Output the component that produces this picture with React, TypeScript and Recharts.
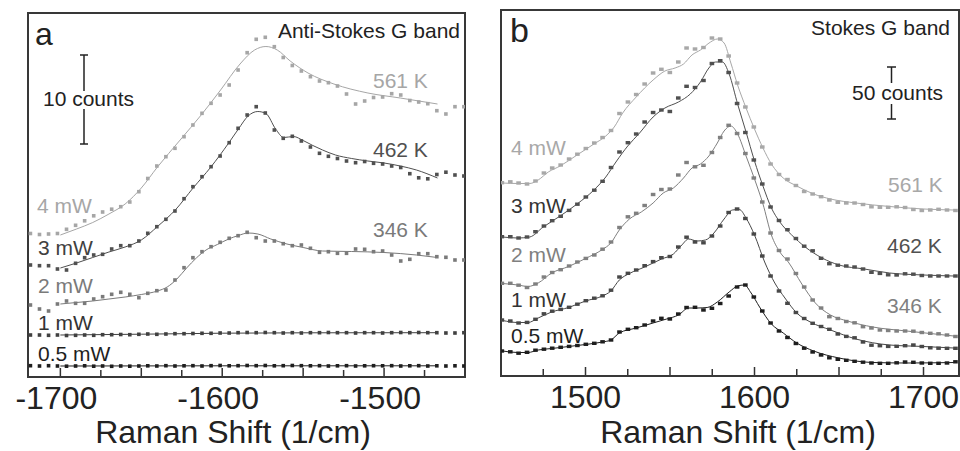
import React from 'react';
import { ComposedChart, Scatter, Line, XAxis, YAxis, ReferenceArea } from 'recharts';

const FONT = '"Liberation Sans", Arial, Helvetica, sans-serif';

// ---------------- Panel a : Anti-Stokes G band (intensity, a.u., offset traces) ----------------
const shiftA = [-1718.5, -1712.9, -1707.3, -1701.8, -1696.2, -1690.6, -1685.0, -1679.4, -1673.9, -1668.3,
  -1662.7, -1657.1, -1651.5, -1646.0, -1640.4, -1634.8, -1629.2, -1623.6, -1618.1, -1612.5,
  -1606.9, -1601.3, -1595.7, -1590.2, -1584.6, -1579.0, -1573.4, -1567.8, -1562.3, -1556.7,
  -1551.1, -1545.5, -1539.9, -1534.4, -1528.8, -1523.2, -1517.6, -1512.0, -1506.5, -1500.9,
  -1495.3, -1489.7, -1484.1, -1478.6, -1473.0, -1467.4, -1461.8, -1456.2, -1450.7];

const aS05 = [11.3, 11, 11.3, 11, 10.8, 11, 11.2, 10.8, 11, 10.7, 11, 10.8, 11, 11.2, 11, 11.3, 11, 11.2, 11.3, 11,
  11.3, 11.5, 11.2, 11.3, 11.5, 11.3, 11.5, 11.2, 11.3, 11.5, 11.3, 11.2, 11.3, 11, 11.2, 11.3, 11, 11.2, 11.3, 11.2,
  11.3, 11, 11.2, 11.3, 11, 11.2, 11, 11.2, 11];
const aS1 = [42, 42, 41.7, 42, 41.5, 41.7, 42, 41.7, 42.3, 42.3, 42.5, 42.3, 42.7, 43, 42.7, 43, 43.3, 43.3, 43.5, 43.7,
  43.7, 44, 44, 44.3, 44.5, 44.3, 44.5, 44.3, 44, 44.3, 44, 44.3, 44.3, 44.5, 44.3, 44.3, 44, 44.3, 44.3, 44,
  44.3, 44.5, 44.3, 44.5, 44.3, 44.3, 44, 44, 44.3];
const aS2 = [72, 68, 66, 73, 76, 73.7, 73.7, 78, 80.3, 82.7, 84.7, 82.7, 79.3, 83.7, 86.3, 87, 97, 109.3, 119.3, 125.3,
  130.3, 134.7, 138.7, 141.3, 144.7, 139.3, 136, 136, 133.3, 131.3, 132, 128.7, 124.7, 125.3, 123.7, 123.7, 128, 127.7, 125.3, 126,
  122, 116, 117.7, 123.3, 123.3, 120.3, 119.7, 117, 117];
const aS3 = [112, 111.3, 111.3, 108, 107, 113.7, 119.3, 122, 122.7, 128, 131.3, 131.3, 136, 143.7, 150.3, 157.7, 166, 178.3, 190.3, 200.3,
  210.3, 221, 234.3, 248.7, 262, 270.3, 264, 247, 238.7, 240.7, 236, 230, 223.7, 220.7, 218.5, 216, 214.3, 215.5, 213.7, 213,
  211, 209.5, 203.3, 199.2, 198.2, 202.5, 204.8, 202, 201];
const aS4 = [143.5, 142.5, 143, 143.5, 147.7, 151.7, 156.2, 161.2, 165, 167.8, 170.3, 175, 185.3, 198.5, 211, 220.3, 228.7, 240.3, 252, 263.7,
  273.7, 282, 292, 307, 324.3, 337.7, 339.7, 330.3, 319.5, 311.5, 306, 300.3, 296, 294.3, 291, 283, 273, 276, 279.5, 280,
  283.3, 282, 276.5, 275, 273.3, 266.3, 263, 270.3, 270.3];

const aFit05: [number, number][] = [[-1700, 11], [-1600, 11.2], [-1467, 11.2]];
const aFit1: [number, number][] = [[-1700, 42], [-1650, 42.8], [-1600, 43.8], [-1550, 44.2], [-1467, 44.3]];
const aFit2: [number, number][] = [[-1700, 73], [-1690, 74.5], [-1680, 76], [-1670, 78], [-1660, 80], [-1650, 82.5], [-1640, 86],
  [-1634, 90], [-1628, 98], [-1622, 109], [-1616, 119], [-1610, 127], [-1603, 132.5], [-1596, 138], [-1590, 141.5], [-1584, 144],
  [-1578, 143], [-1570, 138], [-1560, 133], [-1550, 129.5], [-1538, 126], [-1520, 125.5], [-1500, 124.5], [-1480, 122], [-1467, 119.5]];
const aFit3: [number, number][] = [[-1700, 109], [-1690, 114], [-1680, 119.5], [-1670, 125], [-1660, 130], [-1650, 137], [-1640, 150.5],
  [-1629, 167], [-1618, 189], [-1607, 210], [-1596, 234], [-1590, 248], [-1584, 261], [-1578, 265.5], [-1573, 263.5], [-1567, 248],
  [-1562, 239.5], [-1556, 240.5], [-1550, 236.5], [-1544, 231.5], [-1538, 227], [-1530, 222], [-1520, 218.5], [-1510, 216],
  [-1500, 214], [-1490, 211], [-1480, 207], [-1467, 199]];
const aFit4: [number, number][] = [[-1700, 142], [-1690, 148], [-1680, 154.5], [-1670, 163], [-1660, 173], [-1650, 189], [-1640, 210],
  [-1626, 237], [-1613, 262], [-1601, 287], [-1589, 313], [-1580, 327], [-1573, 330.5], [-1566, 327], [-1558, 316], [-1547, 304],
  [-1531, 293], [-1510, 284], [-1490, 279], [-1467, 273]];

// ---------------- Panel b : Stokes G band ----------------
const shiftB = [1450.5, 1455.5, 1460.4, 1465.4, 1470.4, 1475.4, 1480.3, 1485.3, 1490.3, 1495.2,
  1500.2, 1505.2, 1510.1, 1515.1, 1520.1, 1525.1, 1530.0, 1535.0, 1540.0, 1544.9,
  1549.9, 1554.9, 1559.8, 1564.8, 1569.8, 1574.8, 1579.7, 1584.7, 1589.7, 1594.6,
  1599.6, 1604.6, 1609.5, 1614.5, 1619.5, 1624.5, 1629.4, 1634.4, 1639.4, 1644.3,
  1649.3, 1654.3, 1659.2, 1664.2, 1669.2, 1674.2, 1679.1, 1684.1, 1689.1, 1694.0,
  1699.0, 1704.0, 1708.9, 1713.9, 1718.9];

const bS05 = [25, 24.2, 22.8, 23.7, 25.8, 26.8, 27.8, 28.7, 29.6, 30.5, 31.7, 32.7, 34.2, 36, 44, 46.7, 48.3, 51, 55, 57.7,
  57, 62, 68.5, 68.7, 66, 67.7, 72.5, 80, 89, 91, 79, 65, 53, 45, 38.5, 32.5, 27.8, 24, 21, 18.2,
  16.7, 15.7, 14.7, 13.8, 13, 12.7, 12.7, 13.2, 14, 13.7, 13, 12.7, 12.7, 13, 14.2];
const bS1 = [56, 55, 53, 53.6, 56.7, 62.2, 64.8, 66.6, 68.7, 71.8, 75.3, 77.8, 80.2, 85.8, 99, 102.7, 106, 110.3, 114.4, 118.3,
  119.5, 129, 138.8, 134, 133.2, 140, 150, 163.5, 167, 157.5, 142, 120, 100, 85, 72.7, 63.5, 57.5, 52.7, 49.5, 46.7,
  42, 39.6, 38.2, 34, 30.8, 30.3, 29.6, 29.7, 30.3, 31, 29.5, 28.2, 27.8, 27.7, 27.7];
const bS2 = [92.7, 92.7, 90.8, 88.5, 92, 99, 103.5, 106.3, 110, 114, 117.6, 121, 126.8, 134, 148.5, 159.2, 162.7, 170.5, 181.5, 186.5,
  187, 201, 213.5, 209.2, 210.7, 223.5, 238.5, 250.7, 242.5, 222.5, 198, 174, 143, 125.5, 117, 102.5, 89, 76, 68, 59.3,
  57.5, 54.5, 53.2, 49.3, 48, 46, 45.5, 45, 45, 44.8, 43.5, 42.7, 42.2, 41, 39.5];
const bS3 = [139.3, 139.3, 138, 139, 144.3, 150, 155.3, 159.7, 165.6, 171.8, 179, 185.8, 194.7, 208.5, 224, 233.3, 242, 254, 263.5, 266,
  264.5, 278, 289.7, 288.5, 295.5, 312.5, 315.3, 303.5, 272.5, 243.5, 216, 192, 169, 155.5, 146.3, 137.5, 129.8, 125.2, 117.7, 112.3,
  110.8, 110, 109, 107, 103.7, 102.6, 101.2, 101, 102.2, 101.8, 100.5, 100, 100, 100, 100];
const bS4 = [193.3, 194.2, 193, 192, 195, 203, 208, 211, 217, 221.8, 227.5, 233, 238.5, 245.5, 262.5, 274, 281.5, 292, 303, 306.7,
  303.5, 314, 328, 327, 328.5, 338, 337, 320, 293, 269, 249, 229, 212, 201.5, 196.5, 190.5, 184.5, 182, 179.3, 176,
  173.7, 173, 173, 171.5, 169.2, 168.7, 168.7, 169.2, 168.5, 166.5, 165.5, 166, 166.7, 166, 165.5];

const bFit05: [number, number][] = [[1451, 25], [1460, 23.5], [1466, 23.5], [1472, 26], [1480, 27.5], [1490, 29.5], [1500, 31.5],
  [1510, 34], [1515, 36], [1520, 43], [1530, 48], [1540, 53], [1548, 57], [1555, 61], [1561, 68], [1566, 68], [1572, 68.5],
  [1578, 74], [1585, 84], [1590, 90], [1594, 91], [1598, 83], [1603, 69], [1610, 52], [1617, 43], [1625, 33], [1635, 25],
  [1650, 18], [1670, 13.5], [1690, 13], [1718, 13.5]];
const bFit1: [number, number][] = [[1451, 55.5], [1460, 53.5], [1466, 53.5], [1472, 58], [1480, 64], [1490, 68.5], [1500, 75],
  [1510, 80], [1515, 85], [1520, 96], [1526, 102.5], [1535, 109], [1545, 117], [1552, 122], [1557, 131], [1561, 137], [1566, 135],
  [1571, 136], [1576, 143], [1582, 157], [1587, 166], [1591, 166.5], [1595, 158], [1600, 141], [1606, 114], [1612, 93], [1618, 78],
  [1625, 63], [1633, 54], [1645, 46], [1660, 37], [1680, 31], [1700, 29.5], [1718, 28]];
const bFit2: [number, number][] = [[1451, 92.5], [1460, 91], [1466, 89.5], [1472, 93], [1480, 103], [1490, 109.5], [1500, 117.5],
  [1510, 126.5], [1515, 133], [1520, 146], [1526, 157], [1533, 164], [1540, 173], [1546, 183], [1552, 188], [1558, 198], [1563, 208],
  [1568, 212], [1573, 220], [1578, 233], [1582, 245], [1586, 250], [1590, 242], [1595, 220], [1600, 197], [1605, 172], [1610, 141],
  [1615, 124], [1620, 114], [1628, 92], [1636, 73], [1645, 61], [1655, 55], [1670, 49], [1690, 45], [1718, 40]];
const bFit3: [number, number][] = [[1451, 139], [1460, 138], [1467, 139], [1475, 149], [1485, 160], [1495, 172], [1505, 186],
  [1512, 199], [1518, 214], [1525, 230], [1532, 243], [1540, 259], [1547, 268], [1555, 274], [1562, 282], [1568, 294], [1573, 308],
  [1577, 314], [1581, 314], [1585, 302], [1590, 272], [1595, 244], [1600, 215], [1605, 190], [1610, 168], [1615, 154], [1622, 141],
  [1630, 129], [1640, 118], [1650, 111], [1665, 107], [1680, 103], [1700, 101], [1718, 100]];
const bFit4: [number, number][] = [[1451, 193], [1460, 192.5], [1467, 192.5], [1472, 196], [1478, 204], [1485, 210], [1495, 221],
  [1505, 232], [1512, 240], [1517, 249], [1522, 263], [1530, 279], [1540, 296], [1547, 305], [1553, 308], [1558, 312], [1563, 321],
  [1568, 326], [1574, 334], [1578, 337], [1582, 333], [1586, 313], [1590, 291], [1595, 268], [1600, 247], [1605, 228], [1610, 212],
  [1617, 198], [1625, 190], [1635, 182], [1645, 177], [1660, 173], [1680, 169.5], [1700, 167], [1718, 166]];

const ticksA = [-1700, -1675, -1650, -1625, -1600, -1575, -1550, -1525, -1500, -1475];
const ticksB = [1475, 1500, 1525, 1550, 1575, 1600, 1625, 1650, 1675, 1700];

type Series = { key: string; ys: number[]; fit: [number, number][]; color: string };

const seriesA: Series[] = [
  { key: 'a05', ys: aS05, fit: aFit05, color: '#1e1e1e' },
  { key: 'a1', ys: aS1, fit: aFit1, color: '#404040' },
  { key: 'a2', ys: aS2, fit: aFit2, color: '#7a7a7a' },
  { key: 'a3', ys: aS3, fit: aFit3, color: '#505050' },
  { key: 'a4', ys: aS4, fit: aFit4, color: '#a6a6a6' },
];
const seriesB: Series[] = [
  { key: 'b05', ys: bS05, fit: bFit05, color: '#1e1e1e' },
  { key: 'b1', ys: bS1, fit: bFit1, color: '#484848' },
  { key: 'b2', ys: bS2, fit: bFit2, color: '#808080' },
  { key: 'b3', ys: bS3, fit: bFit3, color: '#505050' },
  { key: 'b4', ys: bS4, fit: bFit4, color: '#a8a8a8' },
];

const toPts = (xs: number[], ys: number[]) => {
  const n = Math.min(xs.length, ys.length);
  const out: { x: number; y: number }[] = [];
  for (let i = 0; i < n; i++) out.push({ x: xs[i], y: ys[i] });
  return out;
};
const fitPts = (f: [number, number][]) => f.map(([x, y]) => ({ x, y }));

const square = (w: number, h: number, fill: string) => (props: any) => {
  const { cx, cy } = props;
  if (cx == null || cy == null || isNaN(cx) || isNaN(cy)) return <g />;
  return <rect x={cx - w / 2} y={cy - h / 2} width={w} height={h} fill={fill} />;
};

const renderTick = (props: any) => {
  const { x, y, payload } = props;
  const v = Number(payload.value);
  const isLabel = v % 100 === 0;
  const len = v % 50 === 0 ? 8 : 6;
  return (
    <g>
      <line x1={x} x2={x} y1={y - 1} y2={y - 1 - len} stroke="#333" strokeWidth={1.5} />
      {isLabel && (
        <text x={x + (v < 0 ? -4 : 0)} y={y + 32} textAnchor="middle" fontSize={32} fill="#222" fontFamily={FONT}>
          {String(v)}
        </text>
      )}
    </g>
  );
};

type PanelProps = {
  xs: number[];
  series: Series[];
  domainX: [number, number];
  domainY: [number, number];
  ticks: number[];
  margin: { top: number; right: number; left: number; bottom: number };
  axisHeight: number;
  markW: number;
  markH: number;
};

function Panel({ xs, series, domainX, domainY, ticks, margin, axisHeight, markW, markH }: PanelProps) {
  return (
    <ComposedChart width={480} height={451} margin={margin}>
      <XAxis
        type="number"
        dataKey="x"
        domain={domainX}
        allowDataOverflow
        ticks={ticks}
        interval={0}
        tick={renderTick}
        tickLine={false}
        axisLine={false}
        tickSize={0}
        tickMargin={0}
        height={axisHeight}
      />
      <YAxis type="number" dataKey="y" domain={domainY} hide allowDataOverflow />
      <ReferenceArea
        x1={domainX[0]}
        x2={domainX[1]}
        y1={domainY[0]}
        y2={domainY[1]}
        fill="none"
        fillOpacity={0}
        stroke="#383838"
        strokeWidth={2}
        strokeOpacity={1}
        ifOverflow="visible"
      />
      {series.map((s) => (
        <Line
          key={s.key + '-fit'}
          data={fitPts(s.fit)}
          dataKey="y"
          type="monotone"
          stroke={s.color}
          strokeWidth={1}
          dot={false}
          activeDot={false}
          isAnimationActive={false}
        />
      ))}
      {series.map((s) => (
        <Scatter
          key={s.key}
          data={toPts(xs, s.ys)}
          dataKey="y"
          fill={s.color}
          shape={square(markW, markH, s.color)}
          isAnimationActive={false}
        />
      ))}
    </ComposedChart>
  );
}

const T = (p: { x: number; y: number; c?: string; s?: number; a?: 'start' | 'middle' | 'end'; children: string }) => (
  <text x={p.x} y={p.y} fill={p.c || '#222'} fontSize={p.s || 21} textAnchor={p.a || 'start'} fontFamily={FONT}>
    {p.children}
  </text>
);

export default function App() {
  return (
    <div style={{ position: 'absolute', left: 0, top: 0, width: 960, height: 451, background: '#fff' }}>
      <div style={{ position: 'absolute', left: 0, top: 0 }}>
        <Panel
          xs={shiftA}
          series={seriesA}
          domainX={[-1720, -1450]}
          domainY={[0, 364]}
          ticks={ticksA}
          margin={{ top: 13, right: 15, left: 28, bottom: 0 }}
          axisHeight={74}
          markW={3.6}
          markH={3.6}
        />
      </div>
      <div style={{ position: 'absolute', left: 480, top: 0 }}>
        <Panel
          xs={shiftB}
          series={seriesB}
          domainX={[1450, 1721]}
          domainY={[0, 366]}
          ticks={ticksB}
          margin={{ top: 10, right: 1, left: 21, bottom: 0 }}
          axisHeight={75}
          markW={4.6}
          markH={3.4}
        />
      </div>
      <svg width={960} height={451} style={{ position: 'absolute', left: 0, top: 0, pointerEvents: 'none' }}>
        {/* panel a annotations */}
        <T x={35} y={45} s={32}>a</T>
        <T x={460} y={38} a="end">Anti-Stokes G band</T>
        <T x={43} y={106}>10 counts</T>
        <g stroke="#222" strokeWidth={1.5}>
          <line x1={84} x2={84} y1={55} y2={91} />
          <line x1={84} x2={84} y1={109} y2={144} />
          <line x1={80} x2={88} y1={55} y2={55} />
          <line x1={80} x2={88} y1={144} y2={144} />
        </g>
        <T x={373} y={88} c="#a6a6a6">561 K</T>
        <T x={373} y={157} c="#505050">462 K</T>
        <T x={373} y={237} c="#7a7a7a">346 K</T>
        <T x={37} y={213} c="#a6a6a6">4 mW</T>
        <T x={38} y={255} c="#404040">3 mW</T>
        <T x={38} y={293} c="#7a7a7a">2 mW</T>
        <T x={38} y={330} c="#333">1 mW</T>
        <T x={38} y={361} c="#1e1e1e">0.5 mW</T>
        <T x={233} y={443} s={32} a="middle">Raman Shift (1/cm)</T>

        {/* panel b annotations */}
        <T x={510} y={42} s={34}>b</T>
        <T x={950} y={35} a="end">Stokes G band</T>
        <T x={852} y={100}>50 counts</T>
        <g stroke="#222" strokeWidth={1.5}>
          <line x1={891.5} x2={891.5} y1={67} y2={83} />
          <line x1={891.5} x2={891.5} y1={104} y2={119} />
          <line x1={887} x2={896} y1={67} y2={67} />
          <line x1={887} x2={896} y1={119} y2={119} />
        </g>
        <T x={888} y={192} c="#a8a8a8">561 K</T>
        <T x={887} y={253} c="#505050">462 K</T>
        <T x={887} y={313} c="#808080">346 K</T>
        <T x={511} y={155} c="#a8a8a8">4 mW</T>
        <T x={511} y={213} c="#333">3 mW</T>
        <T x={511} y={262} c="#808080">2 mW</T>
        <T x={511} y={307} c="#333">1 mW</T>
        <T x={511} y={343} c="#1e1e1e">0.5 mW</T>
        <T x={738} y={443} s={32} a="middle">Raman Shift (1/cm)</T>
      </svg>
    </div>
  );
}
